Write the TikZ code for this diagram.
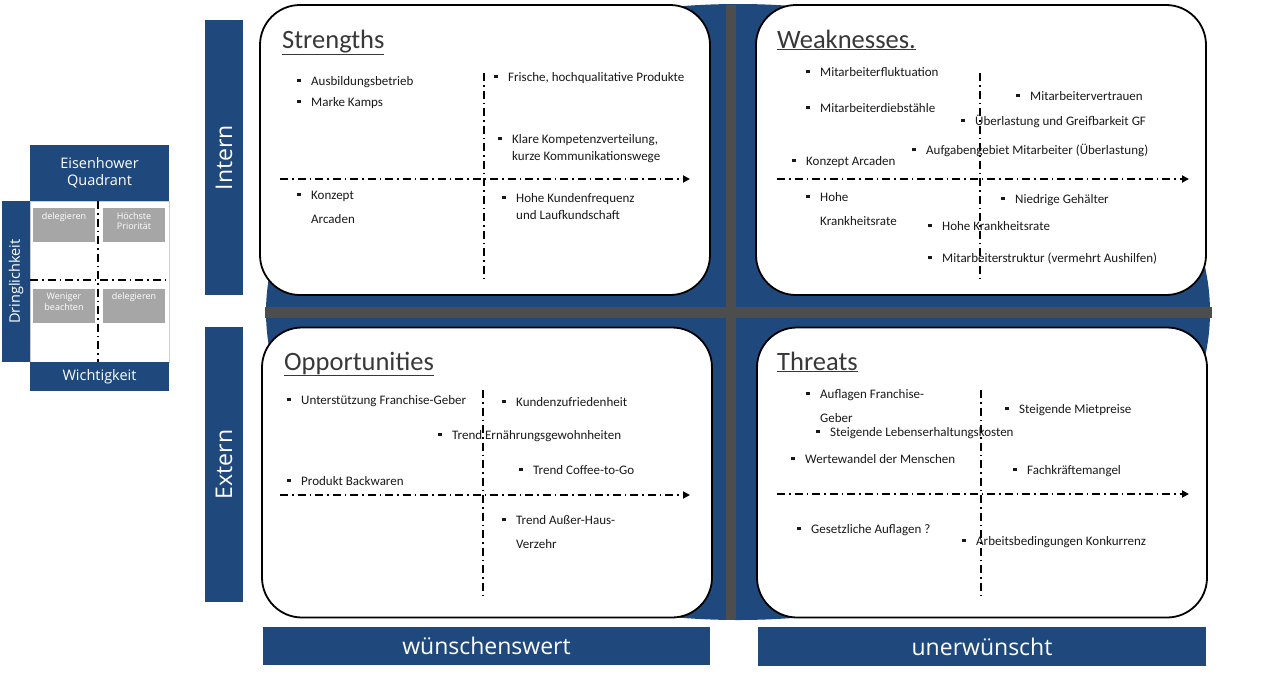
\documentclass[tikz,border=0pt]{standalone}
\usepackage{fontspec}
\setmainfont{Carlito}
\setsansfont{Open Sans}
\usetikzlibrary{arrows.meta}
\definecolor{swotblue}{RGB}{31,73,125}
\definecolor{crossgray}{RGB}{77,77,77}
\definecolor{cellgray}{RGB}{166,166,166}
\definecolor{titlegray}{RGB}{56,56,56}
\newcommand{\sq}{\rule[0.2em]{3.5pt}{3.5pt}\hspace{10.5pt}}
\newcommand{\two}[3]{\begin{tabular}[t]{@{}l@{}}#1\\[#3]#2\end{tabular}}

\begin{document}
\begin{tikzpicture}[x=1pt,y=-1pt,
    swotbox/.style={draw,line width=1.8pt,fill=white,rounded corners=40pt,minimum width=450,minimum height=290},
    bluebar/.style={fill=swotblue,text=white,font=\sffamily\fontsize{23}{26}\selectfont,inner sep=0pt},
    ebox/.style={fill=swotblue,text=white,font=\sffamily\fontsize{14.5}{17}\selectfont,inner sep=0pt,align=center},
    cell/.style={fill=cellgray,minimum width=62,minimum height=34,inner sep=0pt},
    celltext/.style={anchor=north,text=white,font=\sffamily\fontsize{9}{10.5}\selectfont,align=center,inner sep=4.5pt},
    title/.style={anchor=base west,inner sep=0pt,text=titlegray,font=\fontsize{26.5}{30}\selectfont},
    item/.style={anchor=base west,inner sep=0pt,text=black!90,font=\fontsize{13}{15}\selectfont},
    axis/.style={line width=1.8pt,dash pattern=on 8pt off 4pt on 1.5pt off 4pt},
    >={Triangle[length=7pt,width=7pt]}]
  \useasboundingbox (0,0) rectangle (1280,680);

  % background
  \fill[swotblue] (738,312) ellipse [x radius=472,y radius=308];
  \fill[crossgray] (726,5) rectangle (736,620);
  \fill[crossgray] (265,307) rectangle (1212,318);

  % eisenhower quadrant
  \node[ebox,minimum width=139,minimum height=56] (eh) at (99.5,173) {Eisenhower\\Quadrant};
  \node[draw=gray!40,fill=white,minimum width=139,minimum height=161] (eb) at (99.5,281.5) {};
  \node[ebox,minimum width=139,minimum height=29] (ew) at (99.5,376.5) {Wichtigkeit};
  \node[ebox,rotate=90,minimum width=161,minimum height=28] (ed) at (16,281.5) {Dringlichkeit};
  \node[cell,label={[celltext]north:delegieren}] (c1) at (64,225) {};
  \node[cell,label={[celltext]north:Höchste\\Priorität}] (c2) at (134,225) {};
  \node[cell,label={[celltext]north:Weniger\\beachten}] (c3) at (64,305.5) {};
  \node[cell,label={[celltext]north:delegieren}] (c4) at (134,305.5) {};
  \coordinate (ev1) at (98,201); \coordinate (ev2) at (98,362);
  \coordinate (eh1) at (30,280); \coordinate (eh2) at (167,280);
  \draw[axis,line width=2.5pt] (ev1) -- (ev2);
  \draw[axis,line width=2.5pt] (eh1) -- (eh2);

  % side and bottom bars
  \node[bluebar,rotate=90,minimum width=275,minimum height=38] (intern) at (224,157.5) {Intern};
  \node[bluebar,rotate=90,minimum width=275,minimum height=38] (extern) at (224,464.5) {Extern};
  \node[bluebar,minimum width=447,minimum height=38] (wish) at (486.5,646) {wünschenswert};
  \node[bluebar,minimum width=448,minimum height=39] (unwish) at (982,646.5) {unerwünscht};

  % boxes
  \node[swotbox] (S) at (485,150) {};
  \node[swotbox] (W) at (981,150) {};
  \node[swotbox] (O) at (487,472.5) {};
  \node[swotbox] (T) at (982,472.5) {};

  \node[title] (st) at (282,48) {\underline{Strengths}};
  \node[title] (wt) at (777,48) {\underline{Weaknesses.}};
  \node[title] (ot) at (284,370) {\underline{Opportunities}};
  \node[title] (tt) at (777,370) {\underline{Threats}};

  % axes
  \coordinate (sl) at (280,179); \coordinate (sr) at (690,179);
  \coordinate (su) at (484,73);  \coordinate (sd) at (484,282);
  \coordinate (wl) at (777,179); \coordinate (wr) at (1189,179);
  \coordinate (wu) at (980,73);  \coordinate (wd) at (980,280);
  \coordinate (ol) at (280,495); \coordinate (or) at (690,495);
  \coordinate (ou) at (483,390); \coordinate (od) at (483,597);
  \coordinate (tl) at (777,494); \coordinate (tr) at (1189,494);
  \coordinate (tu) at (981,390); \coordinate (td) at (981,597);
  \draw[axis,->] (sl) -- (sr); \draw[axis] (su) -- (sd);
  \draw[axis,->] (wl) -- (wr); \draw[axis] (wu) -- (wd);
  \draw[axis,->] (ol) -- (or); \draw[axis] (ou) -- (od);
  \draw[axis,->] (tl) -- (tr); \draw[axis] (tu) -- (td);

  % strengths
  \node[item] (s1) at (297,85) {\sq Ausbildungsbetrieb};
  \node[item] (s2) at (297,106) {\sq Marke Kamps};
  \node[item] (s3) at (494,81) {\sq Frische, hochqualitative Produkte};
  \node[item] (s4) at (498,143) {\sq\two{Klare Kompetenzverteilung,}{kurze Kommunikationswege}{2pt}};
  \node[item] (s5) at (297,199) {\sq\two{Konzept}{Arcaden}{9pt}};
  \node[item] (s6) at (502,202) {\sq\two{Hohe Kundenfrequenz}{und Laufkundschaft}{2pt}};

  % weaknesses
  \node[item] (w1) at (806,76) {\sq Mitarbeiterfluktuation};
  \node[item] (w2) at (806,112) {\sq Mitarbeiterdiebstähle};
  \node[item] (w3) at (1016,100) {\sq Mitarbeitervertrauen};
  \node[item] (w4) at (961,125) {\sq Überlastung und Greifbarkeit GF};
  \node[item] (w5) at (912,154) {\sq Aufgabengebiet Mitarbeiter (Überlastung)};
  \node[item] (w6) at (792,165) {\sq Konzept Arcaden};
  \node[item] (w7) at (806,201) {\sq\two{Hohe}{Krankheitsrate}{9pt}};
  \node[item] (w8) at (1001,203) {\sq Niedrige Gehälter};
  \node[item] (w9) at (928,230) {\sq Hohe Krankheitsrate};
  \node[item] (w10) at (928,262) {\sq Mitarbeiterstruktur (vermehrt Aushilfen)};

  % opportunities
  \node[item] (o1) at (287,404) {\sq Unterstützung Franchise-Geber};
  \node[item] (o2) at (502,406) {\sq Kundenzufriedenheit};
  \node[item] (o3) at (438,439) {\sq Trend Ernährungsgewohnheiten};
  \node[item] (o4) at (519,474) {\sq Trend Coffee-to-Go};
  \node[item] (o5) at (287,485) {\sq Produkt Backwaren};
  \node[item] (o6) at (502,524) {\sq\two{Trend Außer-Haus-}{Verzehr}{9pt}};

  % threats
  \node[item] (t1) at (806,398) {\sq\two{Auflagen Franchise-}{Geber}{9pt}};
  \node[item] (t2) at (1005,413) {\sq Steigende Mietpreise};
  \node[item] (t3) at (816,436) {\sq Steigende Lebenserhaltungskosten};
  \node[item] (t4) at (791,463) {\sq Wertewandel der Menschen};
  \node[item] (t5) at (1013,474) {\sq Fachkräftemangel};
  \node[item] (t6) at (797,533) {\sq Gesetzliche Auflagen ?};
  \node[item] (t7) at (962,545) {\sq Arbeitsbedingungen Konkurrenz};
\end{tikzpicture}
\end{document}
